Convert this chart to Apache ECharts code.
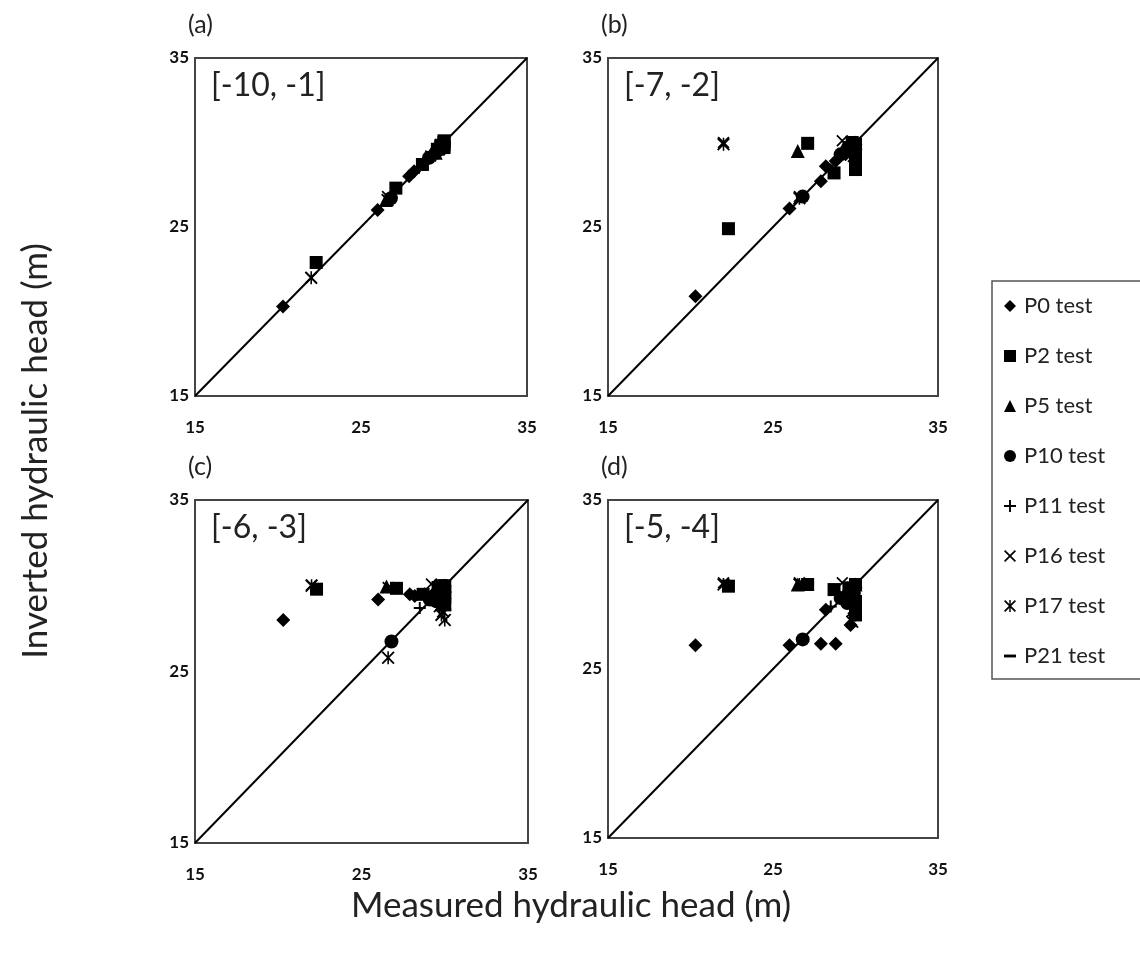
<!DOCTYPE html>
<html>
	<head>
		<meta charset="utf-8">
		<title>hydraulic head</title>
		<script src="https://cdn.jsdelivr.net/npm/echarts@6/dist/echarts.min.js"></script>
	</head>
	<body style="margin:0;background:#fff;">
		<div id="box" style="width: 1140px;height: 954px;"></div>
		<script>
			var mCharts = echarts.init(document.querySelector('#box'))

			// axis range and ticks (same for every panel)
			var axisRange = [15, 35]
			var tickStep = 10

			var panelLetters = ['(a)', '(b)', '(c)', '(d)']
			var panelRanges = ['[-10, -1]', '[-7, -2]', '[-6, -3]', '[-5, -4]']
			var seriesNames = ['P0 test', 'P2 test', 'P5 test', 'P10 test', 'P11 test', 'P16 test', 'P17 test', 'P21 test']

			// measured head (x) per test, and inverted head (y) per panel a,b,c,d
			var p0X = [20.3, 26.0, 27.9, 28.2, 28.8, 29.4, 29.7, 30.0, 29.5, 29.9]
			var p0Y = [
				[20.3, 26.0, 28.0, 28.3, 28.8, 29.4, 29.6, 30.0, 29.5, 29.9],
				[20.9, 26.1, 27.7, 28.6, 28.9, 29.3, 29.7, 29.9, 29.5, 29.8],
				[28.0, 29.2, 29.5, 29.4, 29.5, 29.6, 29.8, 30.0, 29.4, 29.2],
				[26.4, 26.4, 26.5, 28.5, 26.5, 29.0, 27.6, 29.8, 29.3, 28.8]
			]
			var p2X = [22.3, 27.1, 28.7, 29.6, 29.8, 30.0, 30.0, 30.0, 30.0]
			var p2Y = [
				[22.9, 27.3, 28.7, 29.6, 29.8, 29.9, 30.0, 30.1, 29.7],
				[24.9, 29.95, 28.2, 29.7, 30.0, 28.4, 28.9, 29.9, 29.4],
				[29.8, 29.85, 29.5, 29.9, 30.0, 29.3, 29.6, 30.0, 28.9],
				[29.9, 30.0, 29.7, 29.8, 29.3, 28.6, 29.0, 30.0, 28.2]
			]
			var p5X = [26.5, 29.5, 30.0]
			var p5Y = [
				[26.6, 29.4, 29.9],
				[29.5, 29.6, 30.0],
				[29.95, 29.7, 30.0],
				[30.0, 29.8, 30.0]
			]
			var p10X = [26.8, 29.1, 29.9, 29.5]
			var p10Y = [
				[26.7, 29.1, 29.9, 29.4],
				[26.8, 29.3, 29.8, 29.6],
				[26.75, 29.2, 29.6, 29.1],
				[26.75, 29.2, 29.5, 28.9]
			]
			var p11X = [28.5, 29.5, 30.0]
			var p11Y = [
				[28.5, 29.5, 29.9],
				[28.4, 29.4, 29.9],
				[28.7, 29.3, 28.8],
				[28.7, 29.0, 28.5]
			]
			var p16X = [22.0, 26.6, 29.2, 30.0, 29.8]
			var p16Y = [
				[22.0, 26.8, 29.2, 29.8, 29.9],
				[30.0, 26.8, 30.1, 29.9, 29.5],
				[30.05, 29.9, 30.1, 29.5, 29.0],
				[30.1, 30.1, 30.1, 29.4, 28.4]
			]
			var p17X = [22.0, 26.6, 29.8, 30.0, 29.9, 29.7]
			var p17Y = [
				[22.0, 26.6, 29.7, 29.7, 29.8, 29.6],
				[29.9, 26.7, 29.6, 29.9, 29.2, 29.4],
				[30.0, 25.8, 28.3, 28.0, 28.5, 28.8],
				[30.0, 30.0, 27.8, 28.2, 28.6, 29.0]
			]
			var p21X = [29.6, 30.0]
			var p21Y = [
				[29.6, 29.9],
				[29.5, 29.8],
				[29.0, 28.6],
				[28.8, 28.0]
			]

			var xs = [p0X, p2X, p5X, p10X, p11X, p16X, p17X, p21X]
			var ys = [p0Y, p2Y, p5Y, p10Y, p11Y, p16Y, p17Y, p21Y]

			// marker shapes
			var plusPath = 'path://M4.2,0h1.6v4.2h4.2v1.6h-4.2v4.2h-1.6v-4.2h-4.2v-1.6h4.2z'
			var crossPath = 'path://M0,1L1,0L5,4L9,0L10,1L6,5L10,9L9,10L5,6L1,10L0,9L4,5z'
			var starPath = 'path://M0,1L1,0L5,4L9,0L10,1L6,5L10,9L9,10L5,6L1,10L0,9L4,5zM4.4,0h1.2v10h-1.2z'
			var dashPath = 'path://M0,0M0,3.8h10v2.4h-10zM10,10'
			var symbols = ['diamond', 'rect', 'triangle', 'circle', plusPath, crossPath, starPath, dashPath]
			var sizes = [14, 13, 14, 14, 12, 12, 13, 13]

			// grid boxes in px
			var grids = [
				{ left: 195, top: 58, width: 332, height: 338 },
				{ left: 608, top: 58, width: 330, height: 338 },
				{ left: 195, top: 500, width: 333, height: 343 },
				{ left: 608, top: 500, width: 330, height: 338 }
			]

			var font = 'Lato, "Open Sans", sans-serif'
			var xAxis = [], yAxis = [], titles = [], series = []

			grids.forEach(function(g, i) {
				g.show = true
				g.borderColor = '#444'
				g.borderWidth = 2
				g.containLabel = false
				var common = {
					type: 'value',
					gridIndex: i,
					min: axisRange[0],
					max: axisRange[1],
					interval: tickStep,
					axisLine: { show: false },
					axisTick: { show: false },
					splitLine: { show: false },
					axisLabel: {
						color: '#111',
						fontFamily: font,
						fontWeight: 'bold',
						fontSize: 17
					}
				}
				var xa = JSON.parse(JSON.stringify(common))
				xa.axisLabel.margin = 23
				var ya = JSON.parse(JSON.stringify(common))
				ya.axisLabel.margin = 6
				xAxis.push(xa)
				yAxis.push(ya)

				titles.push({
					text: panelLetters[i],
					left: g.left - 7,
					top: g.top - 46,
					padding: 0,
					textStyle: { fontFamily: font, fontWeight: 'normal', fontSize: 25, color: '#222' }
				})
				titles.push({
					text: panelRanges[i],
					left: g.left + 16,
					top: g.top + 12,
					padding: 0,
					textStyle: { fontFamily: font, fontWeight: 'normal', fontSize: 32, color: '#222' }
				})

				// 1:1 line
				series.push({
					type: 'line',
					xAxisIndex: i,
					yAxisIndex: i,
					data: [[axisRange[0], axisRange[0]], [axisRange[1], axisRange[1]]],
					symbol: 'none',
					silent: true,
					lineStyle: { color: '#000', width: 2 },
					z: 1
				})

				seriesNames.forEach(function(name, k) {
					series.push({
						name: name,
						type: 'scatter',
						xAxisIndex: i,
						yAxisIndex: i,
						symbol: symbols[k],
						symbolSize: sizes[k],
						itemStyle: { color: '#000', opacity: 1 },
						data: xs[k].map(function(x, j) { return [x, ys[k][i][j]] }),
						z: 2 + k
					})
				})
			})

			var option = {
				backgroundColor: '#fff',
				animation: false,
				title: titles,
				grid: grids,
				xAxis: xAxis,
				yAxis: yAxis,
				legend: {
					data: seriesNames,
					orient: 'vertical',
					left: 992,
					top: 281,
					padding: [14, 40, 12, 12],
					itemGap: 28,
					itemWidth: 12,
					itemHeight: 12,
					borderColor: '#555',
					borderWidth: 1.5,
					itemStyle: { color: '#000' },
					textStyle: { fontFamily: font, fontSize: 22, color: '#222', padding: [0, 0, 0, 3] }
				},
				graphic: [
					{
						type: 'text',
						x: 36,
						y: 451,
						rotation: Math.PI / 2,
						style: {
							text: 'Inverted hydraulic head (m)',
							font: '35px ' + font,
							fill: '#222',
							align: 'center',
							verticalAlign: 'middle'
						}
					},
					{
						type: 'text',
						x: 571,
						y: 906,
						style: {
							text: 'Measured hydraulic head (m)',
							font: '35px ' + font,
							fill: '#222',
							align: 'center',
							verticalAlign: 'middle'
						}
					}
				],
				series: series
			}
			mCharts.setOption(option)
		</script>
	</body>
</html>
